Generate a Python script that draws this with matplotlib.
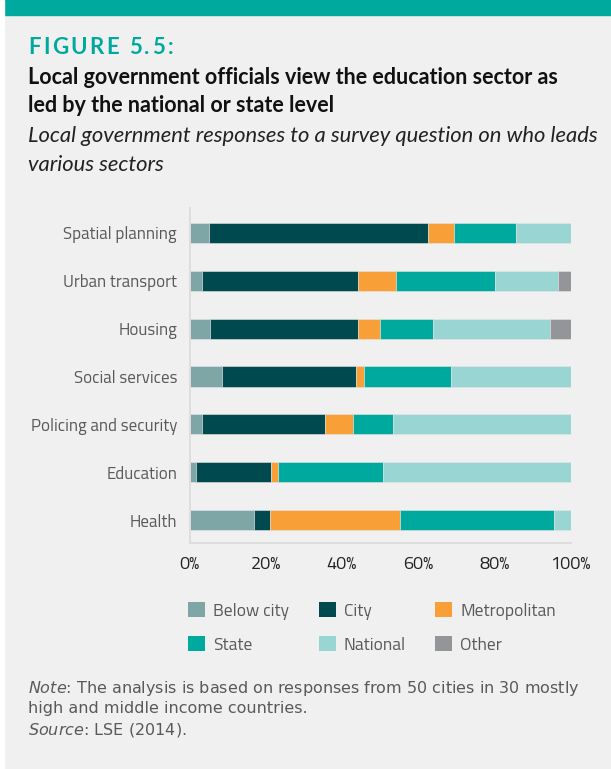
import matplotlib.pyplot as plt
import numpy as np
from matplotlib import font_manager

# data (shares in %)
sectors = ['Spatial planning', 'Urban transport', 'Housing', 'Social services',
           'Policing and security', 'Education', 'Health']
levels = ['Below city', 'City', 'Metropolitan', 'State', 'National', 'Other']
below_city = [5.1, 3.3, 5.5, 8.4, 3.3, 1.8, 16.8]
city = [57.4, 41.0, 38.8, 35.2, 32.2, 19.5, 4.3]
metropolitan = [6.9, 9.8, 5.6, 2.1, 7.4, 2.0, 34.2]
state = [16.3, 26.2, 14.0, 22.9, 10.5, 27.5, 40.3]
national = [14.3, 16.4, 30.7, 31.4, 46.6, 49.2, 4.4]
other = [0.0, 3.3, 5.4, 0.0, 0.0, 0.0, 0.0]
ticks = [0, 20, 40, 60, 80, 100]

colors = ['#7fa6a7', '#004a4f', '#f99f37', '#00a99d', '#99d5d2', '#939598']
bg = '#f0f0f0'
grey = '#595959'

installed = {f.name for f in font_manager.fontManager.ttflist}
def pick(*names):
    return next((n for n in names if n in installed), 'DejaVu Sans')

label_font = pick('Titillium Web', 'Roboto')
title_font = pick('Lato', 'Open Sans')

W, H = 611, 769
fig = plt.figure(figsize=(W / 100, H / 100), dpi=100, facecolor=bg)

# teal band at top and thin white margin on the left
fig.patches.append(plt.Rectangle((0, 1 - 14.5 / H), 1, 14.5 / H, transform=fig.transFigure,
                                 color='#00a99d', zorder=0))
fig.patches.append(plt.Rectangle((0, 0), 4 / W, 1, transform=fig.transFigure,
                                 color='white', zorder=1))

# spaced-out "FIGURE 5.5:" heading
renderer = fig.canvas.get_renderer()
label = 'FIGURE 5.5:'
parts = []
for ch in label:
    t = fig.text(0, 1 - 47 / H, ch, color='#00a99d', fontsize=16, fontweight='bold',
                 family=title_font, va='center')
    parts.append((t, t.get_window_extent(renderer=renderer).width))
gap = (145 - sum(w for _, w in parts)) / (len(parts) - 1)
x = 28
for t, w in parts:
    t.set_x(x / W)
    x += w + gap

fig.text(28 / W, 1 - 78 / H, 'Local government officials view the education sector as',
         fontsize=15.5, fontweight='bold', family=title_font, va='center', color='#111111')
fig.text(28 / W, 1 - 105 / H, 'led by the national or state level',
         fontsize=15.5, fontweight='bold', family=title_font, va='center', color='#111111')
fig.text(28 / W, 1 - 136 / H, 'Local government responses to a survey question on who leads',
         fontsize=15.8, style='italic', family=title_font, va='center', color='#222222')
fig.text(28 / W, 1 - 165 / H, 'various sectors',
         fontsize=15.8, style='italic', family=title_font, va='center', color='#222222')

ax = fig.add_axes([189.5 / W, 1 - 543 / H, 381 / W, 335 / H])
ax.set_facecolor(bg)

y = np.arange(len(sectors))[::-1]
series = [below_city, city, metropolitan, state, national, other]
left = np.zeros(len(sectors))
for name, vals, c in zip(levels, series, colors):
    ax.barh(y, vals, left=left, height=0.42, color=c, label=name,
            edgecolor='#e4e4e4', linewidth=0.4)
    left += np.array(vals)

ax.set_xlim(0, 100)
ax.set_ylim(-0.48, 6.52)
ax.set_yticks(y)
ax.set_yticklabels(sectors, family=label_font, fontsize=12.2, color=grey)
ax.set_xticks(ticks)
ax.set_xticklabels([f'{t}%' for t in ticks], family=label_font, fontsize=13,
                   color='#222222')
ax.tick_params(length=0, axis='y', pad=9)
ax.tick_params(length=0, axis='x', pad=9)
for s in ['top', 'right']:
    ax.spines[s].set_visible(False)
for s in ['left', 'bottom']:
    ax.spines[s].set_color('#dcdcdc')
    ax.spines[s].set_linewidth(1.3)

handles, labels = ax.get_legend_handles_labels()
order = [0, 3, 1, 4, 2, 5]
leg = fig.legend([handles[i] for i in order], [labels[i] for i in order], ncol=3,
                 loc='upper left', bbox_to_anchor=(188 / W, 1 - 602 / H),
                 frameon=False, prop={'family': label_font, 'size': 12.5},
                 handlelength=0.98, handleheight=0.98, columnspacing=1.7, labelspacing=0.95,
                 handletextpad=0.46, borderpad=0, borderaxespad=0)
for t in leg.get_texts():
    t.set_color(grey)
for h in leg.legend_handles:
    h.set_linewidth(0)

fig.text(28 / W, 1 - 689 / H, r'$\it{Note}$' + ': The analysis is based on responses from 50 cities in 30 mostly',
         fontsize=11.5, color=grey, family='DejaVu Sans', va='center')
fig.text(28 / W, 1 - 708 / H, 'high and middle income countries.',
         fontsize=11.5, color=grey, family='DejaVu Sans', va='center')
fig.text(28 / W, 1 - 730 / H, r'$\it{Source}$' + ': LSE (2014).',
         fontsize=11.5, color=grey, family='DejaVu Sans', va='center')

fig.savefig('out.png', dpi=100, facecolor=bg)
